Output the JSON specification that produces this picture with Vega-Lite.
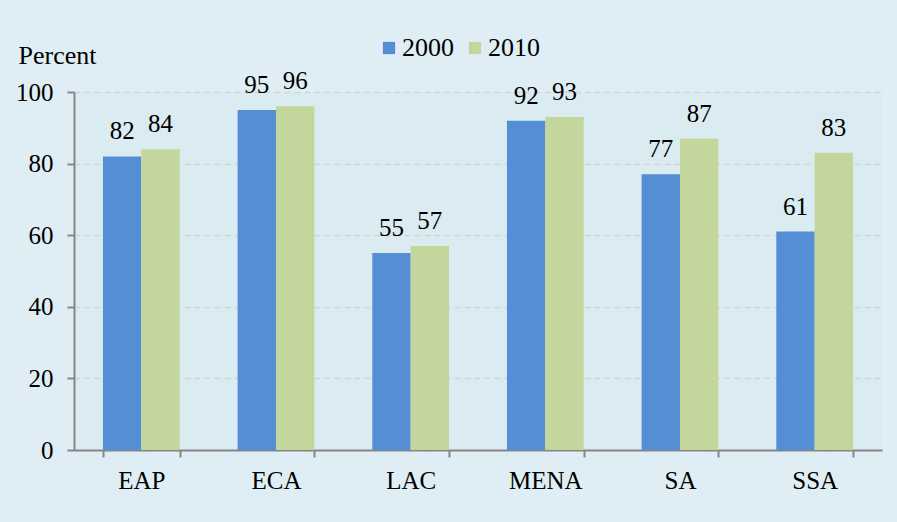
{
  "$schema": "https://vega.github.io/schema/vega-lite/v6.json",
  "width": 808,
  "height": 358,
  "autosize": {"type": "none"},
  "padding": {"left": 74, "top": 92, "right": 15, "bottom": 72},
  "background": "#dfeef4",
  "config": {
    "view": {"fill": "#daecf2", "stroke": null},
    "font": "Liberation Serif",
    "axis": {"labelFont": "Liberation Serif", "titleFont": "Liberation Serif", "labelColor": "#000", "titleColor": "#000"},
    "legend": {"labelFont": "Liberation Serif"}
  },
  "data": {
    "values": [
      {"region": "EAP", "year": "2000", "value": 82},
      {"region": "EAP", "year": "2010", "value": 84},
      {"region": "ECA", "year": "2000", "value": 95},
      {"region": "ECA", "year": "2010", "value": 96},
      {"region": "LAC", "year": "2000", "value": 55},
      {"region": "LAC", "year": "2010", "value": 57},
      {"region": "MENA", "year": "2000", "value": 92},
      {"region": "MENA", "year": "2010", "value": 93},
      {"region": "SA", "year": "2000", "value": 77},
      {"region": "SA", "year": "2010", "value": 87},
      {"region": "SSA", "year": "2000", "value": 61},
      {"region": "SSA", "year": "2010", "value": 83}
    ]
  },
  "encoding": {
    "x": {
      "field": "region", "type": "nominal", "sort": null,
      "scale": {"paddingInner": 0.43, "paddingOuter": 0.215},
      "axis": {
        "title": null, "labelAngle": 0, "labelFontSize": 25, "labelPadding": 11,
        "tickBand": "extent", "tickSize": 7, "tickColor": "#868686", "tickWidth": 2,
        "domainColor": "#868686", "domainWidth": 2, "grid": false
      }
    },
    "xOffset": {"field": "year", "type": "nominal"},
    "y": {
      "field": "value", "type": "quantitative",
      "scale": {"domain": [0, 100]},
      "axis": {
        "title": "Percent", "titleAngle": 0, "titleAlign": "left", "titleBaseline": "alphabetic",
        "titleX": -56, "titleY": -29, "titleFontSize": 26, "titleFontWeight": "normal",
        "values": [0, 20, 40, 60, 80, 100], "labelFontSize": 25, "labelPadding": 14,
        "tickSize": 7, "tickColor": "#868686", "tickWidth": 2,
        "domainColor": "#868686", "domainWidth": 2,
        "grid": true, "gridColor": "#d4d4d4", "gridDash": [6, 4], "gridWidth": 1.5
      }
    }
  },
  "layer": [
    {
      "mark": {"type": "bar"},
      "encoding": {
        "color": {
          "field": "year", "type": "nominal",
          "scale": {"domain": ["2000", "2010"], "range": ["#558ed5", "#c3d69b"]},
          "legend": {
            "title": null, "orient": "none", "direction": "horizontal",
            "legendX": 302, "legendY": -57, "symbolType": "square", "symbolSize": 150,
            "symbolStrokeWidth": 0, "symbolOpacity": 1,
            "labelFontSize": 26, "labelOffset": 0, "columnPadding": 8
          }
        }
      }
    },
    {
      "mark": {"type": "text", "baseline": "alphabetic", "dy": -17, "fontSize": 25, "color": "#000"},
      "encoding": {"text": {"field": "value", "type": "quantitative"}}
    }
  ]
}
